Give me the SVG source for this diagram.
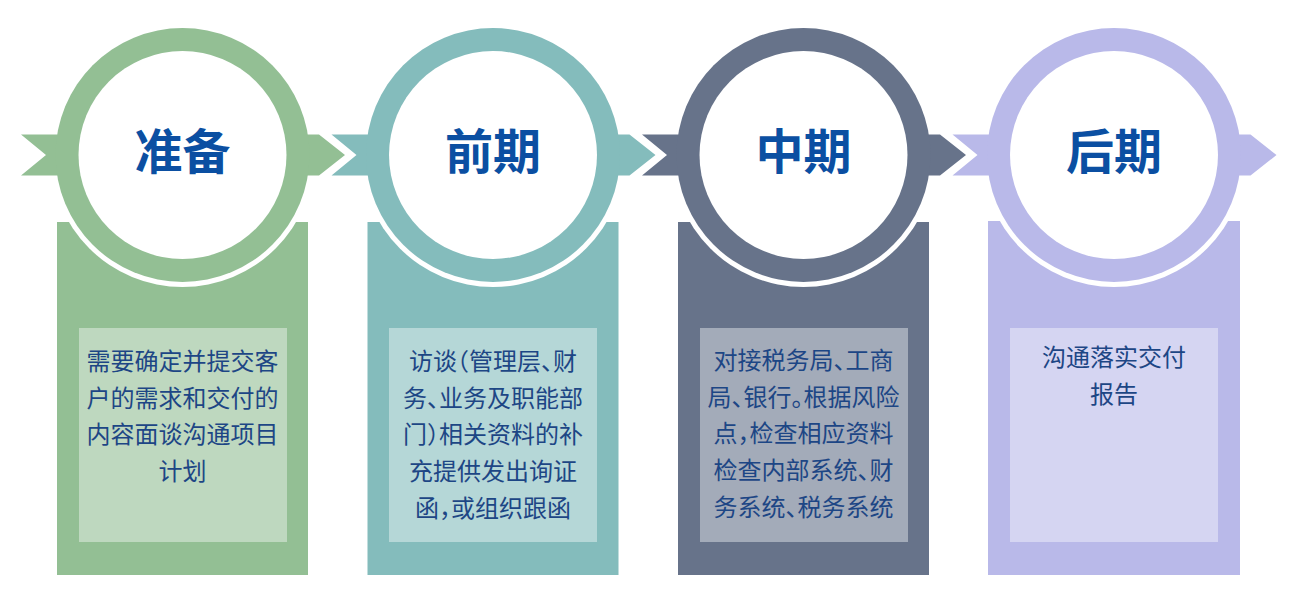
<svg xmlns="http://www.w3.org/2000/svg" width="1300" height="605" viewBox="0 0 1300 605">
<style>
.title{font-family:"Noto Sans CJK SC","Noto Sans",sans-serif;font-size:48px;font-weight:bold;fill:#0b4fa2;text-anchor:middle}
.body{font-family:"Noto Sans CJK SC","Noto Sans",sans-serif;font-size:24px;fill:#1d4685;text-anchor:middle;font-feature-settings:"halt" 1}
.panel{fill:#ffffff;fill-opacity:0.4}
.gap{fill:#ffffff}
.inner{fill:#ffffff}
</style>
<defs>
<path id="band" d="M-161.5,-20.5 H136.5 L162.5,0 L136.5,20.5 H-161.5 L-136.5,0 Z"/>
</defs>
<rect width="1300" height="605" fill="#ffffff"/>
<g id="stage1" transform="translate(182.5,155)" fill="#93bf94">
<rect x="-125.5" y="67" width="251" height="353"/>
<circle class="gap" r="132"/>
<use href="#band"/>
<circle r="127"/>
<circle class="inner" r="104"/>
<rect class="panel" x="-103.5" y="173" width="208" height="214"/>
<text class="title" x="0" y="14">准备</text>
<text class="body" x="0" y="215">需要确定并提交客</text>
<text class="body" x="0" y="251.7">户的需求和交付的</text>
<text class="body" x="0" y="288.4">内容面谈沟通项目</text>
<text class="body" x="0" y="325.1">计划</text>
</g>
<g id="stage2" transform="translate(493,155)" fill="#84bcbc">
<rect x="-125.5" y="67" width="251" height="353"/>
<circle class="gap" r="132"/>
<use href="#band"/>
<circle r="127"/>
<circle class="inner" r="104"/>
<rect class="panel" x="-104" y="173" width="208" height="214"/>
<text class="title" x="0" y="14">前期</text>
<text class="body" x="0" y="215">访谈（管理层、财</text>
<text class="body" x="0" y="251.7">务、业务及职能部</text>
<text class="body" x="0" y="288.4">门）相关资料的补</text>
<text class="body" x="0" y="325.1">充提供发出询证</text>
<text class="body" x="0" y="361.8">函，或组织跟函</text>
</g>
<g id="stage3" transform="translate(803.5,155)" fill="#67738a">
<rect x="-125.5" y="67" width="251" height="353"/>
<circle class="gap" r="132"/>
<use href="#band"/>
<circle r="127"/>
<circle class="inner" r="104"/>
<rect class="panel" x="-103.5" y="173" width="208" height="214"/>
<text class="title" x="0" y="14">中期</text>
<text class="body" x="0" y="214">对接税务局、工商</text>
<text class="body" x="0" y="250.7">局、银行。根据风险</text>
<text class="body" x="0" y="287.4">点，检查相应资料</text>
<text class="body" x="0" y="324.1">检查内部系统、财</text>
<text class="body" x="0" y="360.8">务系统、税务系统</text>
</g>
<g id="stage4" transform="translate(1114,155)" fill="#b9b9e9">
<rect x="-126" y="66" width="252" height="354"/>
<circle class="gap" r="132"/>
<use href="#band"/>
<circle r="127"/>
<circle class="inner" r="104"/>
<rect class="panel" x="-104" y="173" width="208" height="214"/>
<text class="title" x="0" y="14">后期</text>
<text class="body" x="0" y="211">沟通落实交付</text>
<text class="body" x="0" y="247.7">报告</text>
</g>
<g id="connectors"></g>
</svg>
